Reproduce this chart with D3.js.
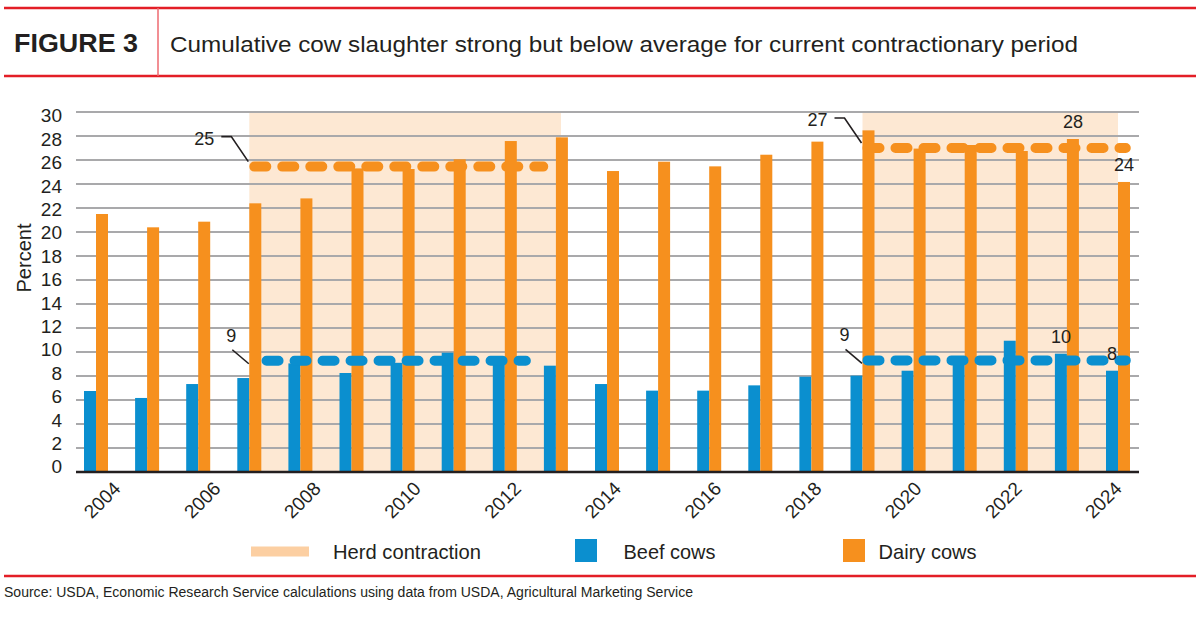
<!DOCTYPE html>
<html><head><meta charset="utf-8">
<script src="https://cdn.jsdelivr.net/npm/d3@7"></script>
<style>
body{margin:0;background:#fff;}
svg{display:block;}
text{font-family:"Liberation Sans",Arial,sans-serif;fill:#231f20;}
</style>
</head><body><svg id="c" width="1200" height="617"></svg>
<script>
// ---------- DATA ----------
const years = [2004,2005,2006,2007,2008,2009,2010,2011,2012,2013,2014,2015,2016,2017,2018,2019,2020,2021,2022,2023,2024];
const beefCows  = [6.75,6.17,7.33,7.83,9.05,8.25,9.1,9.94,9.0,8.86,7.33,6.78,6.78,7.22,7.94,8.03,8.44,9.3,10.94,9.86,8.44];
const dairyCows = [21.5,20.39,20.86,22.39,22.8,25.3,25.25,26.06,27.58,27.89,25.08,25.86,25.47,26.44,27.53,28.47,26.95,27.25,26.75,27.75,24.17];
const contractionStart = [2007, 2019];
const contractionEnd   = [2013.1, 2024];
const avgSeries = ["dairy","dairy","beef","beef"];
const avgValues = [25.45, 27.0, 9.27, 9.3];
const avgFrom   = [2007.0, 2019.0, 2007.24, 2019.0];
const avgTo     = [2012.85, 2024.25, 2012.51, 2024.25];
const avgLabels = ["25","27","9","9"];
const pointLabelSeries = ["dairy","dairy","beef","beef"];
const pointLabelYears  = [2023, 2024, 2023, 2024];
const pointLabelTexts  = ["28","24","10","8"];
const yTicks = [0,2,4,6,8,10,12,14,16,18,20,22,24,26,28,30];
const xTickLabels = [2004,2006,2008,2010,2012,2014,2016,2018,2020,2022,2024];
const legendLabels = ["Herd contraction","Beef cows","Dairy cows"];
const titleLabel = "FIGURE 3";
const titleText = "Cumulative cow slaughter strong but below average for current contractionary period";
const sourceText = "Source: USDA, Economic Research Service calculations using data from USDA, Agricultural Marketing Service";
const yTitle = "Percent";

// ---------- STYLE ----------
const BLUE = "#0b8fcf", ORANGE = "#f6901e", SHADE = "#fde8d3", SHADE_LEG = "#fccfa2";
const RED = "#e31e26", GRID = "#a9a9ab", INK = "#231f20";

const svg = d3.select("#c");

// scales
const plotL = 76, plotR = 1139;
const y = d3.scaleLinear().domain([0,30]).range([472,112]);
const yLab = d3.scaleLinear().domain([0,30]).range([466.7,115.7]);
const x = d3.scaleBand().domain(years).range([70.45,1143.55]).padding(0);
const xLin = d3.scaleLinear().domain([2004,2024]).range([96,1118]);
const xSub = d3.scaleBand().domain(["beef","dairy"]).range([x.bandwidth()/2-12, x.bandwidth()/2+12]).padding(0);
const xLab = d3.scaleLinear().domain([2004,2024]).range([121.7,1123]);
const color = {beef: BLUE, dairy: ORANGE};
const vals = {beef: beefCows, dairy: dairyCows};

// header
svg.append("line").attr("x1",4).attr("x2",1196).attr("y1",8).attr("y2",8).attr("stroke",RED).attr("stroke-width",2.5);
svg.append("line").attr("x1",4).attr("x2",1196).attr("y1",76).attr("y2",76).attr("stroke",RED).attr("stroke-width",2.5);
svg.append("line").attr("x1",158).attr("x2",158).attr("y1",8).attr("y2",76).attr("stroke","#ee6a70").attr("stroke-width",1.5);
svg.append("text").attr("x",14).attr("y",52).attr("font-family","Roboto, 'Liberation Sans', sans-serif")
  .attr("font-weight","bold").attr("font-size",25).attr("textLength",124).attr("lengthAdjust","spacingAndGlyphs").text(titleLabel);
svg.append("text").attr("x",170).attr("y",52).attr("font-family","'Noto Sans', sans-serif")
  .attr("font-size",22).attr("textLength",908).attr("lengthAdjust","spacingAndGlyphs").text(titleText);

// shading
svg.append("g").selectAll("rect").data(contractionStart).join("rect")
  .attr("x", d => xLin(d))
  .attr("width", (d,i) => xLin(contractionEnd[i]) - xLin(d))
  .attr("y", y(30)).attr("height", y(0)-y(30)).attr("fill", SHADE);

// gridlines
svg.append("g").selectAll("line").data(yTicks.filter(d=>d>0)).join("line")
  .attr("x1",plotL).attr("x2",plotR).attr("y1",d=>y(d)).attr("y2",d=>y(d))
  .attr("stroke",GRID).attr("stroke-width",2);

// y labels
svg.append("g").selectAll("text").data(yTicks).join("text")
  .attr("x",62).attr("y",d=>yLab(d)).attr("dy","0.35em").attr("text-anchor","end")
  .attr("font-size",19).text(d=>d);
svg.append("text").attr("transform","translate(31,258) rotate(-90)").attr("text-anchor","middle")
  .attr("font-size",20).text(yTitle);

// bars
const rows = [];
years.forEach((yr,i)=>{ ["beef","dairy"].forEach(s=>rows.push({year:yr, series:s, value:vals[s][i]})); });
svg.append("g").selectAll("rect").data(rows).join("rect")
  .attr("x", d => x(d.year) + xSub(d.series))
  .attr("width", xSub.bandwidth())
  .attr("y", d => y(d.value))
  .attr("height", d => y(0) - y(d.value))
  .attr("fill", d => color[d.series]);

// axis line
svg.append("line").attr("x1",plotL).attr("x2",plotR).attr("y1",y(0)).attr("y2",y(0)).attr("stroke",INK).attr("stroke-width",2.5);

// x labels
svg.append("g").selectAll("text").data(xTickLabels).join("text")
  .attr("transform", d => `translate(${xLab(d)},489.7) rotate(-45)`)
  .attr("text-anchor","end").attr("font-size",19).text(d=>d);

// average dashed lines
const avgIdx = d3.range(avgValues.length);
svg.append("g").selectAll("line").data(avgIdx).join("line")
  .attr("x1", i => xLin(avgFrom[i]) + 5).attr("x2", i => xLin(avgTo[i]) - 5)
  .attr("y1", i => y(avgValues[i])).attr("y2", i => y(avgValues[i]))
  .attr("stroke", i => color[avgSeries[i]]).attr("stroke-width",10)
  .attr("stroke-linecap","round").attr("stroke-dasharray","12 16");

// average annotations
avgIdx.forEach(i=>{
  const yv = y(avgValues[i]);
  const g = svg.append("g");
  if (avgSeries[i] === "dairy") {
    const xs = xLin(avgFrom[i]);
    g.append("polyline").attr("points", [[xs-1,yv-5],[xs-18,yv-30],[xs-28,yv-30]].map(p=>p.join(",")).join(" "))
      .attr("fill","none").attr("stroke",INK).attr("stroke-width",1.6);
    g.append("text").attr("x",xs-35).attr("y",yv-22).attr("text-anchor","end").attr("font-size",18).text(avgLabels[i]);
  } else {
    const xc = xLin(Math.round(avgFrom[i]));
    g.append("line").attr("x1",xc-0.5).attr("y1",yv+3).attr("x2",xc-17).attr("y2",yv-11)
      .attr("stroke",INK).attr("stroke-width",1.6);
    g.append("text").attr("x",xc-18).attr("y",yv-19).attr("text-anchor","middle").attr("font-size",18).text(avgLabels[i]);
  }
});

// point labels
svg.append("g").selectAll("text").data(d3.range(pointLabelTexts.length)).join("text")
  .attr("x", i => x(pointLabelYears[i]) + xSub(pointLabelSeries[i]) + xSub.bandwidth()/2)
  .attr("y", i => y(vals[pointLabelSeries[i]][years.indexOf(pointLabelYears[i])]) - 11)
  .attr("text-anchor","middle").attr("font-size",18).text(i => pointLabelTexts[i]);

// legend
const lg = svg.append("g");
lg.append("rect").attr("x",251).attr("y",546.5).attr("width",58).attr("height",10).attr("fill",SHADE_LEG);
lg.append("rect").attr("x",575).attr("y",539).attr("width",22).attr("height",23).attr("fill",BLUE);
lg.append("rect").attr("x",843).attr("y",539).attr("width",22).attr("height",23).attr("fill",ORANGE);
const legX = [333, 623.5, 878.6], legW = [148, 92, 98];
lg.selectAll("text").data(legendLabels).join("text")
  .attr("x",(d,i)=>legX[i]).attr("y",559).attr("font-size",21)
  .attr("textLength",(d,i)=>legW[i]).attr("lengthAdjust","spacingAndGlyphs").text(d=>d);

// bottom rule and source
svg.append("line").attr("x1",4).attr("x2",1196).attr("y1",576).attr("y2",576).attr("stroke",RED).attr("stroke-width",2.5);
svg.append("text").attr("x",4).attr("y",597.3).attr("font-size",14).attr("textLength",689)
  .attr("lengthAdjust","spacingAndGlyphs").text(sourceText);
</script>
</body></html>
